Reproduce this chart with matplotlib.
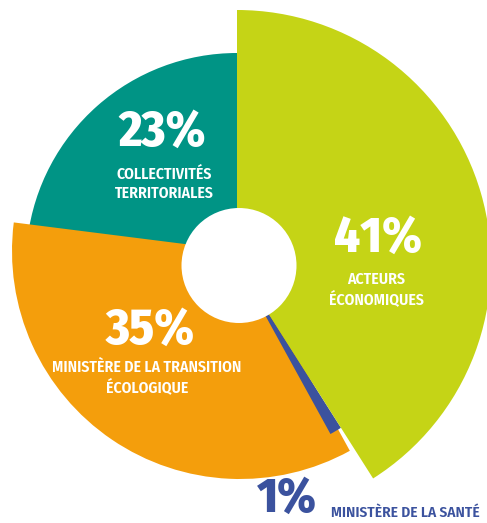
import matplotlib.pyplot as plt
from matplotlib.patches import Wedge, Circle
import numpy as np

# budget shares, clockwise from 12 o'clock
labels = ["ACTEURS\nÉCONOMIQUES", "MINISTÈRE DE LA SANTÉ",
          "MINISTÈRE DE LA TRANSITION\nÉCOLOGIQUE", "COLLECTIVITÉS\nTERRITORIALES"]
shares = [41, 1, 35, 23]

colors = ["#c5d416", "#3b529e", "#f49e0c", "#009485"]
radii = [254, 194, 228, 211]
centers = [(237, 259), (237, 259), (240, 272), (237, 259)]
draw_order = [3, 2, 1, 0]

# condensed families first, the rest are fallbacks
cond = ["Fira Sans Condensed", "Barlow Semi Condensed", "Sofia Sans Semi Condensed",
        "Saira SemiCondensed", "Roboto Condensed", "DejaVu Sans"]

W, H = 487, 523
fig = plt.figure(figsize=(W / 100, H / 100), dpi=100)
ax = fig.add_axes([0, 0, 1, 1])
ax.set_xlim(0, W)
ax.set_ylim(0, H)
ax.set_aspect("equal")
ax.axis("off")

# angles: start at top, go clockwise
ends = 90 - 360 * np.cumsum(shares) / sum(shares)
starts = np.concatenate([[90], ends[:-1]])

for i in draw_order:
    ax.add_patch(Wedge(centers[i], radii[i], ends[i], starts[i],
                       facecolor=colors[i], edgecolor="none"))

ax.add_patch(Circle((239, 257.5), 57.5, facecolor="white", edgecolor="none", zorder=5))

big = dict(family=cond, weight="heavy", ha="center", va="center", zorder=6)
small = dict(family=cond, weight="semibold", ha="center", va="center", zorder=6,
             linespacing=1.25)

# value + name inside each wedge
pct_pos = [(378, H - 238), (287, H - 499), (150, H - 331), (162, H - 133)]
name_pos = [(376, H - 290), None, (147, H - 378), (164, H - 184)]

for i in [0, 2, 3]:
    ax.text(*pct_pos[i], f"{shares[i]}%", color="white", fontsize=36, **big)
    ax.text(*name_pos[i], labels[i], color="white", fontsize=11.3, **small)

# the small slice is labelled outside
ax.text(*pct_pos[1], f"{shares[1]}%", color=colors[1], fontsize=35, **big)
ax.text(331, H - 513, labels[1], color=colors[1], fontsize=11,
        family=cond, weight="semibold", ha="left", va="center")

fig.savefig("out.png", dpi=100)
